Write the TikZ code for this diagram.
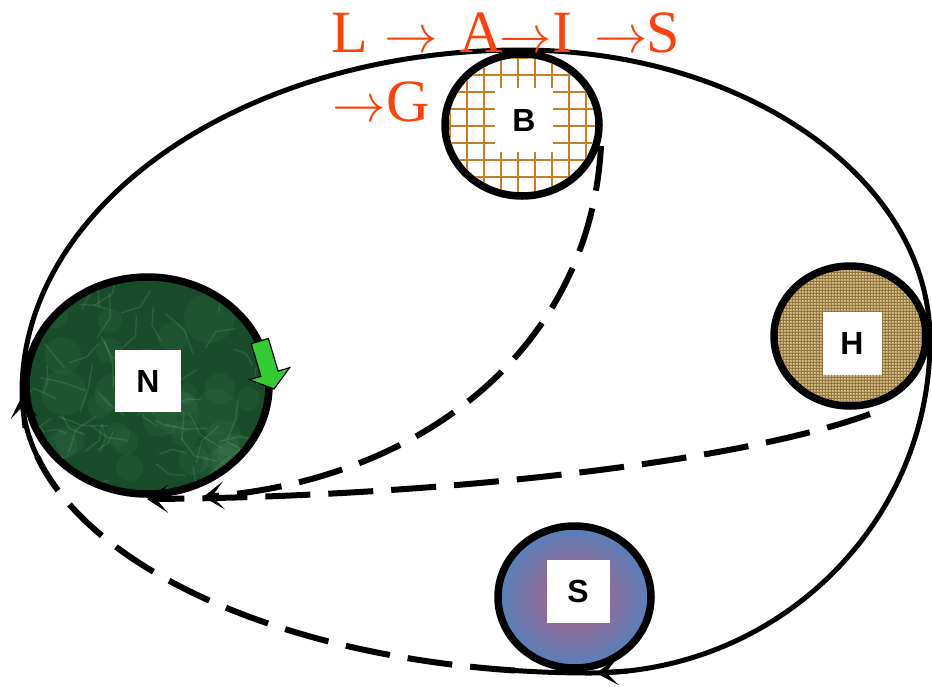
\documentclass[tikz,border=0pt]{standalone}
\usepackage{fontspec}
\setmainfont{Liberation Serif}
\newfontfamily\labfont{Liberation Sans}
\usetikzlibrary{shapes.geometric,arrows.meta,patterns,calc}
\definecolor{titlec}{RGB}{255,64,10}
\definecolor{gridc}{RGB}{200,125,40}
\definecolor{ngreen}{RGB}{24,76,42}
\definecolor{nlight}{RGB}{120,190,140}
\definecolor{burlap}{RGB}{200,170,112}
\definecolor{burlapd}{RGB}{110,84,40}
\definecolor{sblue}{RGB}{88,128,188}
\definecolor{spink}{RGB}{180,94,126}
\definecolor{arrowgreen}{RGB}{51,204,51}
\begin{document}
\begin{tikzpicture}[x=1pt,y=-1pt,
  planet/.style={ellipse, draw=black, line width=7.5pt, inner sep=0pt, outer sep=0pt},
  labelbox/.style={fill=white, inner sep=0pt, font=\labfont\bfseries\fontsize{32}{32}\selectfont},
  orbit/.style={line width=5pt},
  flow/.style={line width=6pt, dash pattern=on 45pt off 18pt},
  tipa/.style={-{Stealth[length=21pt,width=28pt,inset=12pt]}},
  title/.style={text=titlec, font=\fontsize{60}{60}\selectfont, inner sep=0pt, anchor=base west},
  titlearrow/.style={text=titlec, font=\fontsize{24}{24}\selectfont, inner sep=0pt, anchor=base west}
]
\useasboundingbox (0,0) rectangle (932,686);

% big orbit: solid part
\coordinate (os) at ($(590,392)+(166.8:568 and 281)$);
\coordinate (oe) at ($(590,392)+(97.6:568 and 281)$);
\draw[orbit] (os)
  arc[start angle=166.8, end angle=180, x radius=568, y radius=281]
  arc[start angle=180, end angle=270, x radius=498, y radius=342]
  arc[start angle=270, end angle=360, x radius=410, y radius=290]
  arc[start angle=0, end angle=90, x radius=340, y radius=333]
  arc[start angle=90, end angle=97.6, x radius=568, y radius=281];
% big orbit: dashed part
\draw[orbit, line width=6pt, dash pattern=on 45pt off 18pt] (oe)
  arc[start angle=97.6, end angle=166.8, x radius=568, y radius=281];

% N
\node[planet, fill=ngreen, minimum width=243pt, minimum height=217pt] (N) at (147.5,385.5) {};
\begin{scope}
  \clip (N.center) ellipse [x radius=118, y radius=105];
  \pgfmathsetseed{11}
  \foreach \i in {1,...,30}{
    \pgfmathsetmacro\px{147.5+110*rand}
    \pgfmathsetmacro\py{385.5+95*rand}
    \pgfmathsetmacro\pr{10+16*rnd}
    \fill[nlight, opacity=0.07] (\px,\py) circle [radius=\pr];
  }
  \foreach \i in {1,...,70}{
    \pgfmathsetmacro\px{147.5+120*rand}
    \pgfmathsetmacro\py{385.5+105*rand}
    \pgfmathsetmacro\pa{180*rand}
    \pgfmathsetmacro\pb{\pa+50*rand}
    \pgfmathsetmacro\pl{10+16*rnd}
    \draw[nlight, opacity=0.2, line width=1.4pt, line cap=round] (\px,\py) -- ++(\pa:\pl) -- ++(\pb:\pl);
  }
\end{scope}

% B
\node[planet, fill=white, minimum width=154pt, minimum height=142pt] (B) at (522,125) {};
\begin{scope}
  \clip (B.center) ellipse [x radius=73, y radius=67];
  \foreach \x in {416,433,...,620} \draw[gridc, line width=1.8pt] (\x,40) -- (\x,210);
  \foreach \y in {41,58,...,210} \draw[gridc, line width=1.8pt] (430,\y) -- (620,\y);
\end{scope}

% H
\node[planet, fill=burlap, minimum width=152pt, minimum height=140pt] (H) at (850,336) {};
\begin{scope}
  \clip (H.center) ellipse [x radius=72, y radius=66];
  \fill[pattern=grid, pattern color=burlapd, opacity=0.6] (770,260) rectangle (930,410);
  \fill[pattern=crosshatch dots, pattern color=white!75!yellow, opacity=0.5] (770,260) rectangle (930,410);
\end{scope}

% S
\node[planet, inner color=spink, outer color=sblue, minimum width=153pt, minimum height=142pt] (S) at (574.5,597) {};

% label boxes
\node[labelbox, minimum width=66pt, minimum height=62pt] (Nl) at (148,381) {N};
\node[labelbox, minimum width=58pt, minimum height=64pt] (Bl) at (524,120) {B};
\node[labelbox, minimum width=59pt, minimum height=63pt] (Hl) at (852,343) {H};
\node[labelbox, minimum width=63pt, minimum height=63pt] (Sl) at (578,591) {S};

% dashed connectors
\coordinate (bs) at (601,146);
\coordinate (hs) at (870,414);
\coordinate (ne1) at (203,497);
\coordinate (ne2) at (147,499);
\draw[flow, tipa] (bs) .. controls (590,350) and (420,480) .. (ne1);
\draw[flow, tipa] (hs) .. controls (730,465) and (420,497) .. (ne2);

% orbit arrow tips
\coordinate (la) at (25,428);
\coordinate (lb) at (22,396);
\coordinate (ba) at (628,671);
\coordinate (bb) at (596,673);
\draw[orbit, -{Stealth[length=22pt,width=27pt,inset=12pt]}] (la) -- (lb);
\draw[orbit, -{Stealth[length=22pt,width=27pt,inset=12pt]}] (ba) -- (bb);

% green arrow
\draw[fill=arrowgreen, line width=1.2pt, line join=miter]
  (251.2,343.7) -- (268.4,338.5) -- (278.1,371.1) -- (289.6,367.7) -- (274,389) -- (249.4,379.7) -- (260.9,376.3) -- cycle;

% title
\node[title] (t1) at (331,52) {L};
\node[titlearrow] (t2) at (384,52) {\scalebox{2.15}{$\rightarrow$}};
\node[title] (t3) at (459,52) {A};
\node[titlearrow] (t4) at (499,52) {\scalebox{2.1}{$\rightarrow$}};
\node[title] (t5) at (552,52) {I};
\node[titlearrow] (t6) at (594,52) {\scalebox{2.15}{$\rightarrow$}};
\node[title] (t7) at (646,52) {S};
\node[titlearrow] (t8) at (332,121) {\scalebox{2.15}{$\rightarrow$}};
\node[title] (t9) at (386,121) {G};
\end{tikzpicture}
\end{document}
